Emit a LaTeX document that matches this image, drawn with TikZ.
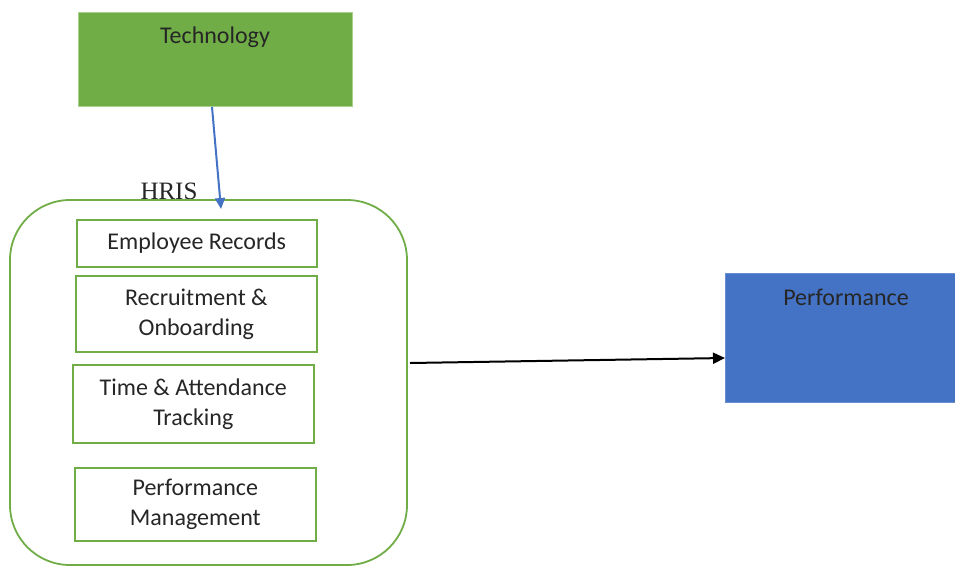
\documentclass[tikz,border=0pt]{standalone}
\usepackage{fontspec}
\setmainfont{Carlito}
\newfontfamily\serifhris{Liberation Serif}
\usetikzlibrary{arrows.meta}
\definecolor{ggreen}{HTML}{70AD47}
\definecolor{lgreen}{HTML}{A9D18E}
\definecolor{gblue}{HTML}{4472C4}
\begin{document}
\begin{tikzpicture}[x=1pt,y=-1pt,
  item/.style={draw=ggreen, line width=1.6pt, fill=white},
  itemtext/.style={font=\fontsize{24}{30}\selectfont, text=black!85, align=center},
  toptext/.style={font=\fontsize{24}{28}\selectfont, text=black!85}]
\useasboundingbox (0,0) rectangle (955,566);
% Technology
\node[draw=lgreen, line width=1pt, fill=ggreen, minimum width=274pt, minimum height=94pt, anchor=north west] (tech) at (78,12) {};
\node[toptext] (techl) at (215,37) {Technology};
% Performance
\node[draw=gblue!80, line width=1pt, fill=gblue, minimum width=232pt, minimum height=129pt, anchor=north west] (perf) at (725,273) {};
\node[toptext] (perfl) at (846,297) {Performance};
% HRIS label
\node[font=\serifhris\fontsize{25}{28}\selectfont, text=black!85, anchor=base] (hrisl) at (169,199) {HRIS};
% HRIS container
\draw[ggreen, line width=1.8pt, rounded corners=60pt] (10,200) rectangle (407,565);
\coordinate (hrisR) at (410,363);
\coordinate (hrisT) at (221,209);
% inner boxes
\node[item, minimum width=240pt, minimum height=47pt, anchor=north west] (er) at (76,219) {};
\node[itemtext] at (er.center) {Employee Records};
\node[item, minimum width=241pt, minimum height=76pt, anchor=north west] (ro) at (75,275) {};
\node[itemtext] at (ro.center) {Recruitment \&\\Onboarding};
\node[item, minimum width=241pt, minimum height=78pt, anchor=north west] (ta) at (72,364) {};
\node[itemtext] at (ta.center) {Time \& Attendance\\Tracking};
\node[item, minimum width=241pt, minimum height=73pt, anchor=north west] (pm) at (74,467) {};
\node[itemtext] at (pm.center) {Performance\\Management};
% connectors
\draw[gblue, line width=2pt, -{Triangle[length=11pt,width=10pt]}] (tech.south -| 212,0) -- (hrisT);
\draw[black, line width=2pt, -{Triangle[length=12pt,width=11pt]}] (hrisR) -- (perf.west |- 0,358);
\end{tikzpicture}
\end{document}
